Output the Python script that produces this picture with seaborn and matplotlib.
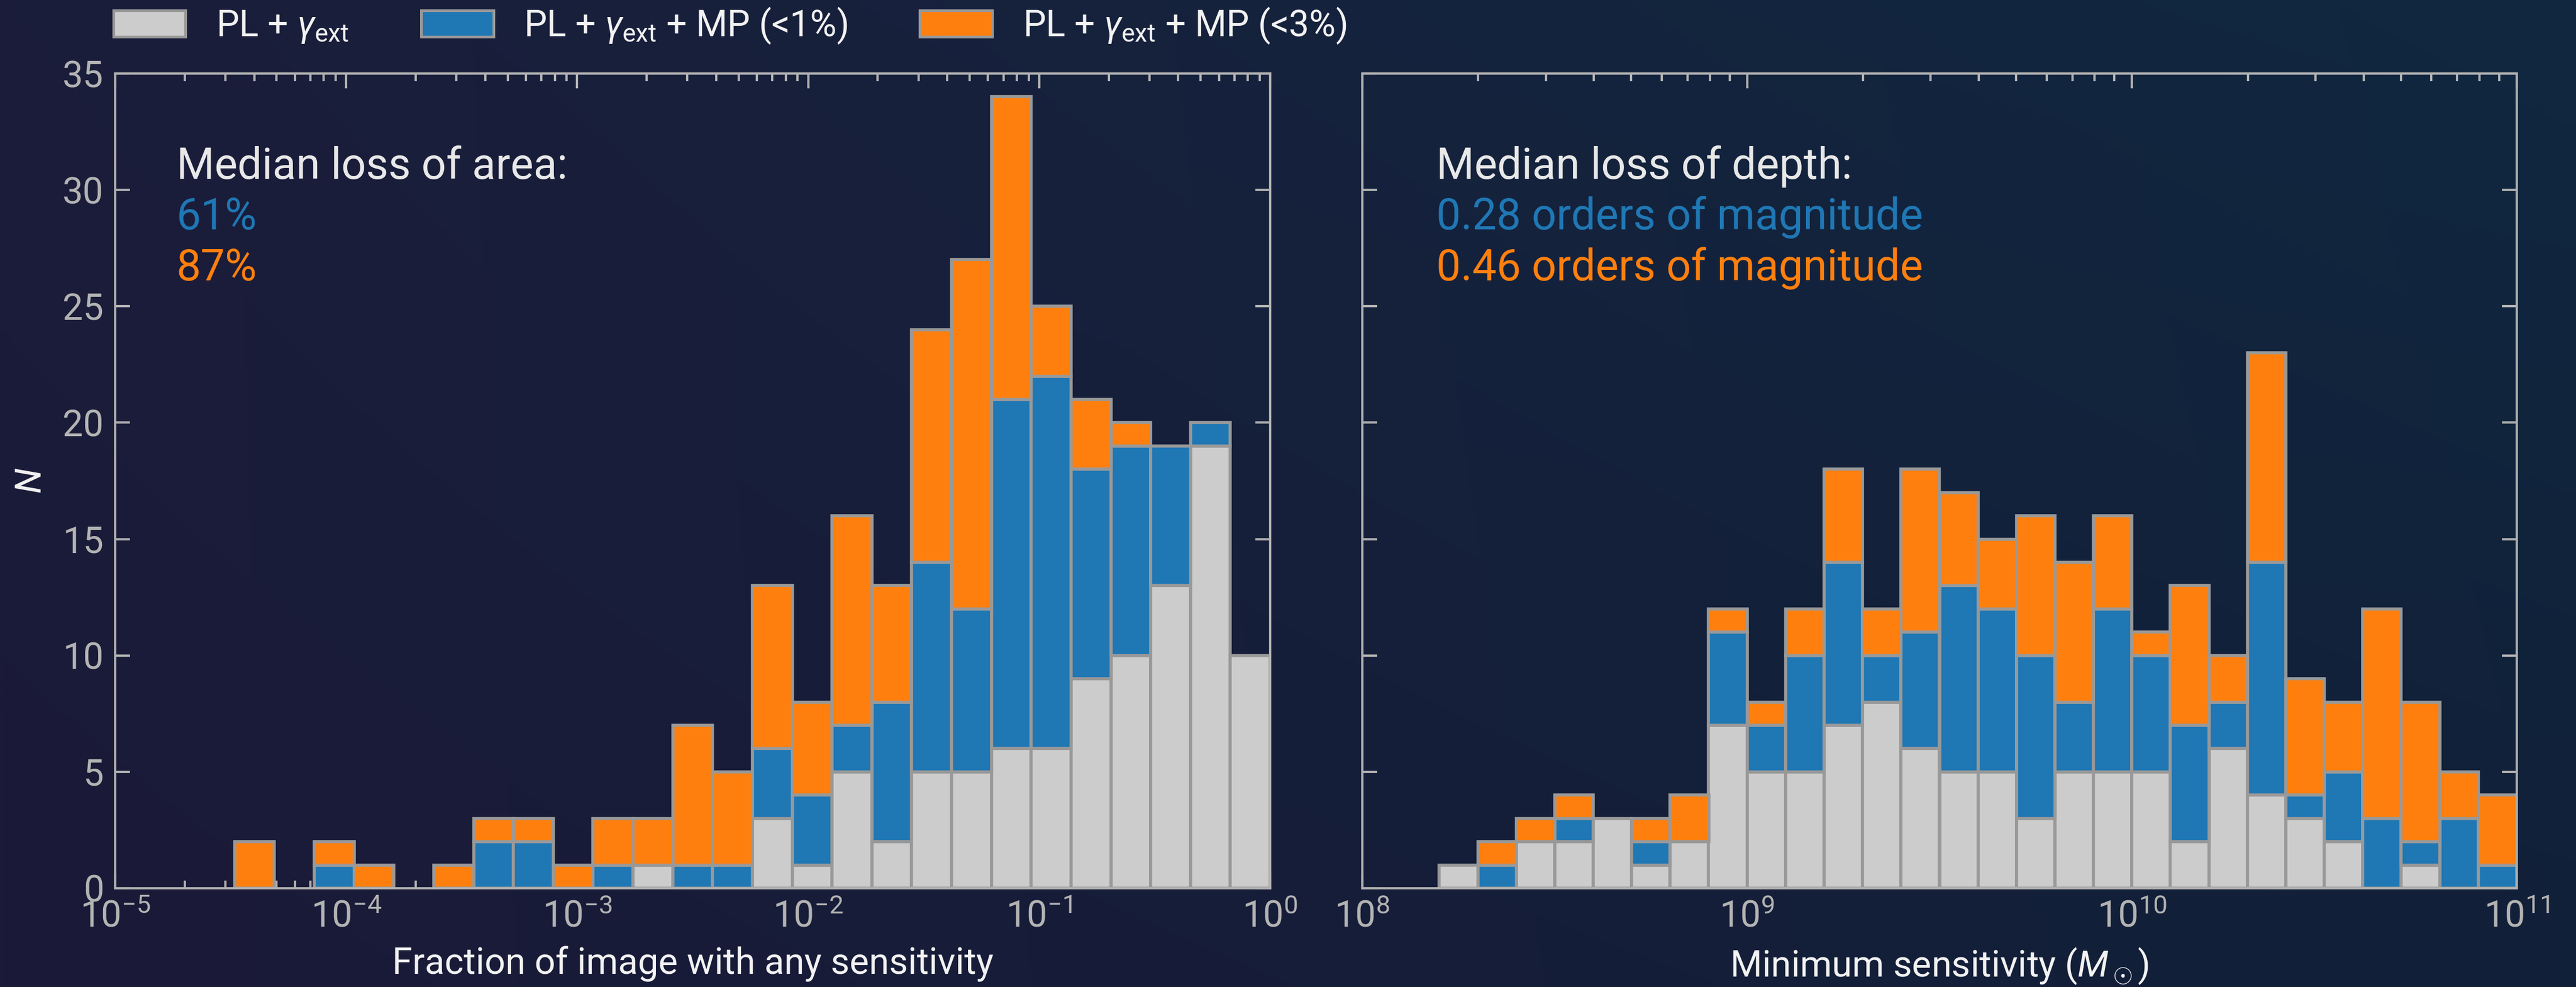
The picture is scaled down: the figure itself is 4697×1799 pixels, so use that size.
import numpy as np
import pandas as pd
import matplotlib
matplotlib.use("Agg")
import matplotlib.pyplot as plt
from matplotlib.patches import Patch
import seaborn as sns

# ---------------- data ----------------
# bin edges (log10 units)
area_bin_exponents = np.linspace(-5, 0, 30)     # 29 bins, 1e-5 .. 1
depth_bin_exponents = np.linspace(8, 11, 31)    # 30 bins, 1e8 .. 1e11

model_labels = [
    r"PL + $\gamma_{\rm ext}$",
    r"PL + $\gamma_{\rm ext}$ + MP (<1%)",
    r"PL + $\gamma_{\rm ext}$ + MP (<3%)",
]
model_colors = ["#cccccc", "#1f77b4", "#ff7f0e"]

# counts per bin for each model (left panel: fraction of image with any sensitivity)
area_pl_gamma = [0, 0, 0, 0, 0, 0, 0, 0, 0, 0, 0, 0, 0, 1, 0, 0, 3, 1, 5, 2,
                 5, 5, 6, 6, 9, 10, 13, 19, 10]
area_mp1 = [0, 0, 0, 0, 0, 1, 0, 0, 0, 2, 2, 0, 1, 0, 1, 1, 3, 3, 2, 6,
            9, 7, 15, 16, 9, 9, 6, 1, 0]
area_mp3 = [0, 0, 0, 2, 0, 1, 1, 0, 1, 1, 1, 1, 2, 2, 6, 4, 7, 4, 9, 5,
            10, 15, 13, 3, 3, 1, 0, 0, 0]

# counts per bin for each model (right panel: minimum sensitivity)
depth_pl_gamma = [0, 0, 1, 0, 2, 2, 3, 1, 2, 7, 5, 5, 7, 8, 6, 5, 5, 3, 5, 5,
                  5, 2, 6, 4, 3, 2, 0, 1, 0, 0]
depth_mp1 = [0, 0, 0, 1, 0, 1, 0, 1, 0, 4, 2, 5, 7, 2, 5, 8, 7, 7, 3, 7,
             5, 5, 2, 10, 1, 3, 3, 1, 3, 1]
depth_mp3 = [0, 0, 0, 1, 1, 1, 0, 1, 2, 1, 1, 2, 4, 2, 7, 4, 3, 6, 6, 4,
             1, 6, 2, 9, 5, 3, 9, 6, 2, 3]

area_text = ["Median loss of area:", "61%", "87%"]
depth_text = ["Median loss of depth:", "0.28 orders of magnitude",
              "0.46 orders of magnitude"]

y_ticks = [0, 5, 10, 15, 20, 25, 30, 35]

# ---------------- style ----------------
sns.set_style("ticks")
plt.rcParams["font.family"] = ["Roboto", "DejaVu Sans"]
plt.rcParams["mathtext.fontset"] = "custom"
plt.rcParams["mathtext.rm"] = "Roboto"
plt.rcParams["mathtext.it"] = "Roboto:italic"
plt.rcParams["mathtext.bf"] = "Roboto:bold"

TICK_C = "#b3b3b3"
SPINE_C = "#b0b0b0"
TEXT_C = "#f2f2f2"
EDGE_C = "#999999"

W, H, DPI = 4697, 1799, 300
fig = plt.figure(figsize=(W / DPI, H / DPI), dpi=DPI)

# background gradient
bg = fig.add_axes([0, 0, 1, 1], zorder=-10)
gx, gy = np.meshgrid(np.linspace(0, 1, 300), np.linspace(0, 1, 120))
tl = np.array([27, 29, 58]); tr = np.array([16, 40, 64])
bl = np.array([27, 26, 56]); br = np.array([17, 32, 56])
img = ((1 - gx)[..., None] * ((1 - gy)[..., None] * tl + gy[..., None] * bl)
       + gx[..., None] * ((1 - gy)[..., None] * tr + gy[..., None] * br)) / 255.0
bg.imshow(img, aspect="auto", interpolation="bilinear", extent=[0, 1, 0, 1])
bg.set_axis_off()

ax1 = fig.add_axes([210 / W, 1 - 1619 / H, (2316 - 210) / W, (1619 - 134) / H])
ax2 = fig.add_axes([2484 / W, 1 - 1619 / H, (4589 - 2484) / W, (1619 - 134) / H])

palette = dict(zip(model_labels, model_colors))


def make_frame(exponents, counts_list):
    centers = 10 ** ((exponents[:-1] + exponents[1:]) / 2)
    parts = [pd.DataFrame({"value": centers, "count": counts, "model": lab})
             for lab, counts in zip(model_labels, counts_list)]
    return pd.concat(parts, ignore_index=True)


panels = [
    (ax1, area_bin_exponents, [area_pl_gamma, area_mp1, area_mp3], (1e-5, 1e0),
     "Fraction of image with any sensitivity", area_text, 0.053),
    (ax2, depth_bin_exponents, [depth_pl_gamma, depth_mp1, depth_mp3], (1e8, 1e11),
     r"Minimum sensitivity ($M_\odot$)", depth_text, 0.064),
]

for ax, edges, counts, xlim, xlabel, texts, tx in panels:
    df = make_frame(edges, counts)
    sns.histplot(data=df, x="value", weights="count", hue="model",
                 hue_order=model_labels[::-1], palette=palette,
                 multiple="stack", bins=[float(e) for e in edges], log_scale=True,
                 alpha=1, edgecolor=EDGE_C, linewidth=1.35, legend=False, ax=ax)
    for p in ax.patches:
        if p.get_height() == 0:
            p.set_visible(False)
    ax.set_facecolor("none")
    ax.set_xscale("log")
    ax.set_xlim(*xlim)
    ax.set_ylim(0, 35)
    ax.set_yticks(y_ticks)
    for s in ax.spines.values():
        s.set_visible(True)
        s.set_color(SPINE_C)
        s.set_linewidth(1.0)
    ax.tick_params(axis="x", which="major", direction="in", top=True, bottom=True,
                   length=6.5, width=1.0, color=TICK_C, labelcolor=TICK_C,
                   labelsize=16, pad=5)
    ax.tick_params(axis="x", which="minor", direction="in", top=True, bottom=True,
                   length=3.4, width=1.0, color=TICK_C)
    ax.tick_params(axis="y", which="major", direction="in", left=True, right=True,
                   length=6.5, width=1.0, color=TICK_C, labelcolor=TICK_C,
                   labelsize=16, pad=5)
    ax.tick_params(axis="y", which="minor", left=False, right=False)
    ax.set_xlabel(xlabel, color=TEXT_C, fontsize=16, labelpad=5)
    ax.set_ylabel("")
    ax.text(tx, 0.871, texts[0], transform=ax.transAxes, color="#e8e8e8",
            fontsize=19, va="baseline", ha="left")
    ax.text(tx, 0.809, texts[1], transform=ax.transAxes, color=model_colors[1],
            fontsize=19, va="baseline", ha="left")
    ax.text(tx, 0.746, texts[2], transform=ax.transAxes, color=model_colors[2],
            fontsize=19, va="baseline", ha="left")

ax1.set_ylabel("$N$", color=TEXT_C, fontsize=16, labelpad=6)
ax2.tick_params(axis="y", labelleft=False)

handles = [Patch(facecolor=c, edgecolor=EDGE_C, linewidth=1.2, label=l)
           for l, c in zip(model_labels, model_colors)]
leg = fig.legend(handles=handles, loc="center left", bbox_to_anchor=(0.044, 0.974),
                 ncol=3, frameon=False, fontsize=15.8, borderpad=0, borderaxespad=0,
                 handlelength=2.0, handleheight=0.76, handletextpad=0.85,
                 columnspacing=2.0)
for t in leg.get_texts():
    t.set_color(TEXT_C)

fig.savefig("out.png", dpi=DPI)
